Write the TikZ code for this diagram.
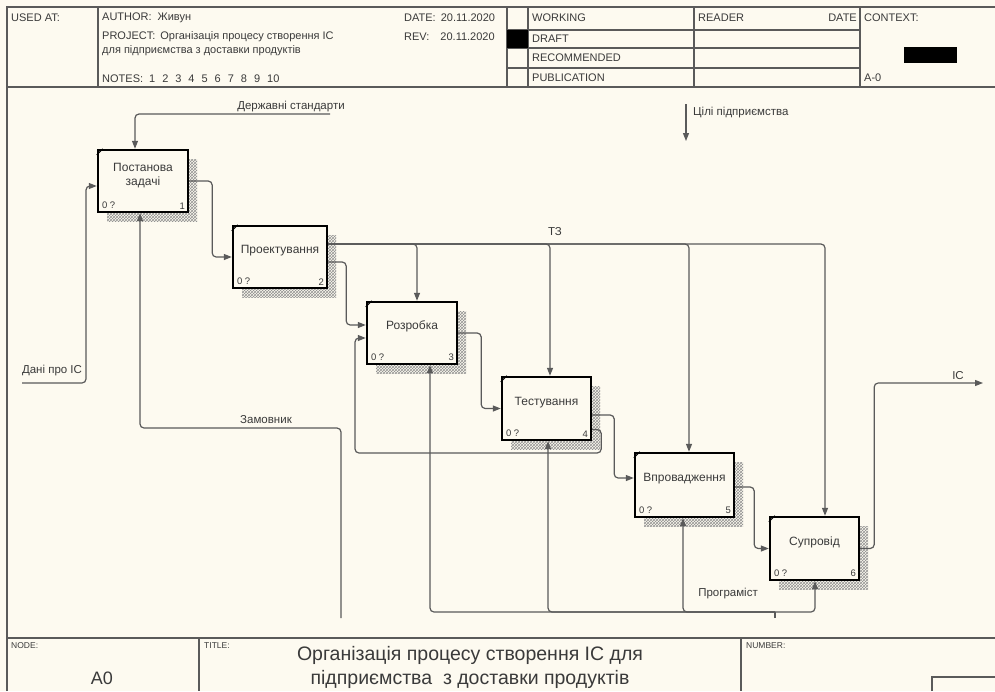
\documentclass[tikz,border=0pt]{standalone}
\usepackage{fontspec}
\setmainfont{Liberation Sans}
\usetikzlibrary{arrows.meta,patterns,shadows,calc}
\definecolor{bg}{HTML}{FDFAF0}
\definecolor{ln}{HTML}{5A5A5A}
\definecolor{tx}{HTML}{3A3A3A}
\begin{document}
\begin{tikzpicture}[x=1pt,y=-1pt,
  frame/.style={draw=ln, line width=1.3pt},
  hdr/.style={font=\fontsize{11}{12}\selectfont, text=tx, anchor=west, inner sep=0pt},
  fn/.style={draw=black, line width=2.4pt, fill=bg, inner sep=0pt,
    drop shadow={shadow xshift=9pt, shadow yshift=-9pt, opacity=1, fill=none, pattern=crosshatch, pattern color=gray!85}},
  blab/.style={font=\fontsize{12}{14}\selectfont, text=tx, align=center},
  sm/.style={font=\fontsize{9.5}{11}\selectfont, text=tx, inner sep=0pt},
  arr/.style={draw=ln, line width=1.2pt, rounded corners=4pt, -{Triangle[length=8pt,width=6pt]}},
  lbl/.style={font=\fontsize{11.5}{13}\selectfont, text=tx, inner sep=0pt},
]
\useasboundingbox (0,0) rectangle (995,691);
\fill[bg] (0,0) rectangle (995,691);

% ---------- header frame ----------
\draw[frame] (7,691) -- (7,7) -- (995,7);
\draw[frame] (7,87) -- (995,87);
\draw[frame] (98,7) -- (98,87);
\foreach \x in {507,528,694,860} \draw[frame] (\x,7) -- (\x,87);
\foreach \y in {30,48,68} \draw[frame] (507,\y) -- (860,\y);
\fill[black] (507,30) rectangle (528,48);
\fill[black] (904,47) rectangle (957,63);

\node[hdr] (usedat) at (11,18) {USED AT:};
\node[hdr] (author) at (102,18) {AUTHOR:\hspace{6pt}Живун};
\node[hdr] (project) at (102,37) {PROJECT:\hspace{5pt}Організація процесу створення ІС};
\node[hdr] (project2) at (102,51) {для підприємства з доставки продуктів};
\node[hdr] (notes) at (102,79) {NOTES:\hspace{6pt}1\hspace{7pt}2\hspace{7pt}3\hspace{7pt}4\hspace{7pt}5\hspace{7pt}6\hspace{7pt}7\hspace{7pt}8\hspace{7pt}9\hspace{7pt}10};
\node[hdr] (date) at (404,18) {DATE:\hspace{5pt}20.11.2020};
\node[hdr] (rev) at (404,37) {REV:\hspace{11pt}20.11.2020};
\node[hdr] (working) at (532,18) {WORKING};
\node[hdr] (draft) at (532,39) {DRAFT};
\node[hdr] (recom) at (532,58) {RECOMMENDED};
\node[hdr] (publ) at (532,78) {PUBLICATION};
\node[hdr] (reader) at (698,18) {READER};
\node[hdr, anchor=east] (rdate) at (857,18) {DATE};
\node[hdr] (context) at (864,18) {CONTEXT:};
\node[hdr] (azero) at (864,78) {A-0};

% ---------- footer ----------
\draw[frame] (7,638) -- (995,638);
\draw[frame] (199,638) -- (199,691);
\draw[frame] (741,638) -- (741,691);
\draw[frame] (932,691) -- (932,677) -- (995,677);
\node[hdr, font=\fontsize{8.5}{10}\selectfont] (nodel) at (11,646) {NODE:};
\node[hdr, font=\fontsize{8.5}{10}\selectfont] (titlel) at (204,646) {TITLE:};
\node[hdr, font=\fontsize{8.5}{10}\selectfont] (numberl) at (746,646) {NUMBER:};
\node[font=\fontsize{18}{20}\selectfont, text=tx, inner sep=0pt] (anode) at (102,678) {A0};
\node[font=\fontsize{19.5}{24}\selectfont, text=tx, inner sep=0pt, align=center] (title) at (470,667) {Організація процесу створення ІС для\\підприємства\ \ з доставки продуктів};

% ---------- function boxes ----------
\node[fn, minimum width=90pt, minimum height=62pt] (b1) at (143,181) {};
\node[fn, minimum width=94pt, minimum height=62pt] (b2) at (280,257) {};
\node[fn, minimum width=90pt, minimum height=62pt] (b3) at (412,333) {};
\node[fn, minimum width=89pt, minimum height=63pt] (b4) at (546.5,408.5) {};
\node[fn, minimum width=99pt, minimum height=64pt] (b5) at (684.5,485) {};
\node[fn, minimum width=89pt, minimum height=63pt] (b6) at (814.5,548.5) {};

\node[blab] (t1) at ([yshift=5pt]b1.center) {Постанова\\задачі};
\node[blab] (t2) at ([yshift=6pt]b2.center) {Проектування};
\node[blab] (t3) at ([yshift=7pt]b3.center) {Розробка};
\node[blab] (t4) at ([yshift=6pt]b4.center) {Тестування};
\node[blab] (t5) at ([yshift=6pt]b5.center) {Впровадження};
\node[blab] (t6) at ([yshift=6pt]b6.center) {Супровід};

\foreach \b/\n in {b1/1,b2/2,b3/3,b4/4,b5/5,b6/6}{
  \draw[line width=1pt] ([yshift=-6pt]\b.north west) -- ([xshift=6pt]\b.north west);
  \node[sm, anchor=south west] (\b q) at ([xshift=5pt,yshift=4pt]\b.south west) {0 ?};
  \node[sm, anchor=south east] (\b n) at ([xshift=-4pt,yshift=4pt]\b.south east) {\n};
}

% ---------- free ends ----------
\coordinate (ds) at (330,114);
\coordinate (d0) at (22,383);
\coordinate (z0) at (341,618);
\coordinate (p0) at (775,618);
\coordinate (ic) at (983,383);
\coordinate (g0) at (686,104);
\coordinate (g1) at (686,141);
\coordinate (fb) at (355,453);

% ---------- arrows ----------
% controls
\draw[arr] (ds) -| ([xshift=-8pt]b1.north);
\node[lbl, anchor=south] (lds) at (291,112) {Державні стандарти};
\draw[arr] (g0) -- (g1);
\node[lbl, anchor=west] (lg) at (693,113) {Цілі підприємства};

\coordinate (tz) at ([yshift=13pt]b2.east);
\draw[arr] (tz) -| ([xshift=5pt]b3.north);
\draw[arr] (tz) -| ([xshift=3.5pt]b4.north);
\draw[arr] (tz) -| ([xshift=4.5pt]b5.north);
\draw[arr] (tz) -| ([xshift=10.5pt]b6.north);
\node[lbl] (ltz) at (555,232) {ТЗ};

% inputs / outputs
\draw[arr] (d0) -- (86,383) |- ([yshift=-5pt]b1.west);
\node[lbl] (ld) at (52,371) {Дані про ІС};
\draw[arr] (b1.east) -- ++(23,0) |- (b2.west);
\draw[arr] ([yshift=-5pt]b2.east) -- ++(18,0) |- ([yshift=8pt]b3.west);
\draw[arr] (b3.east) -- ++(23,0) |- (b4.west);
\draw[arr] ([yshift=-6.5pt]b4.east) -- ++(22,0) |- ([yshift=7pt]b5.west);
\draw[arr] ([yshift=-21pt]b4.east) -- ++(9,0) |- (fb) |- ([yshift=-5pt]b3.west);
\draw[arr] ([yshift=-2pt]b5.east) -- ++(19,0) |- (b6.west);
\draw[arr] (b6.east) -- ++(14,0) |- (ic);
\node[lbl] (lic) at (958,376) {ІС};

% mechanisms
\draw[arr] (z0) -- (341,428) -| ([xshift=-3pt]b1.south);
\node[lbl] (lz) at (266,420) {Замовник};
\coordinate (pj) at (775,612);
\draw[line width=1.2pt, draw=ln, rounded corners=2pt] (p0) -- (pj);
\draw[arr] (pj) -| ([xshift=18pt]b3.south);
\draw[arr] (pj) -| ([xshift=1.5pt]b4.south);
\draw[arr] (pj) -| ([xshift=-1.5pt]b5.south);
\draw[arr] (pj) -| ([xshift=0.5pt]b6.south);
\node[lbl] (lp) at (728,594) {Програміст};
\end{tikzpicture}
\end{document}
